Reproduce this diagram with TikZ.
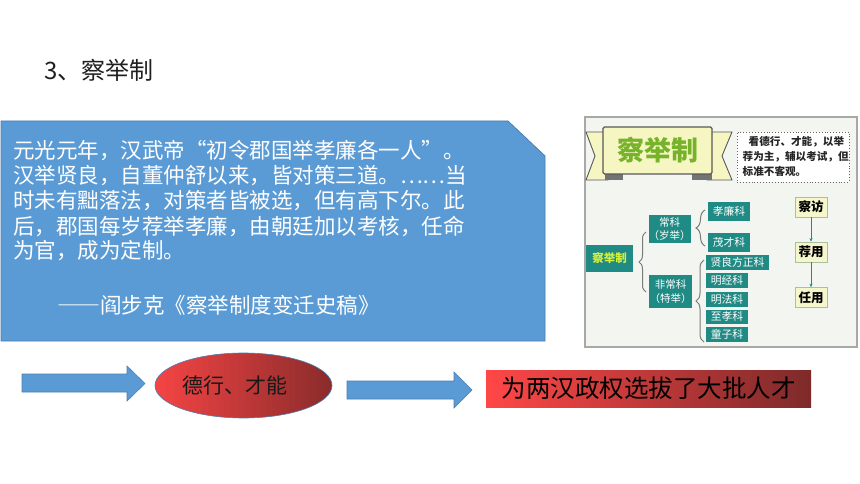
\documentclass[tikz,border=0pt]{standalone}
\usepackage{fontspec}
\setmainfont{Noto Sans CJK SC}
\newcommand{\fw}[1]{{\addfontfeatures{RawFeature=+fwid}#1}}
\usetikzlibrary{shapes.geometric,decorations.pathreplacing,arrows.meta}
\definecolor{officeblue}{HTML}{5B9BD5}
\definecolor{officeborder}{HTML}{4A7EB0}
\definecolor{redL}{HTML}{FF4747}
\definecolor{redD}{HTML}{7E2A2A}
\definecolor{ellL}{HTML}{F54444}
\definecolor{ellD}{HTML}{8A2B2B}
\definecolor{tealbox}{HTML}{208A84}
\definecolor{picbg}{HTML}{F3F5F1}
\definecolor{picframe}{HTML}{A8A8A8}
\definecolor{ribbon}{HTML}{F6F6C2}
\definecolor{bannergreen}{HTML}{76B22A}
\definecolor{rootyellow}{HTML}{D6F03A}
\definecolor{stepfill}{HTML}{F6F6CC}
\definecolor{stepdraw}{HTML}{A9BFA0}
\definecolor{bracegray}{HTML}{7A7A7A}
\tikzset{
  bodytext/.style={anchor=west, inner sep=0pt, text=white, font=\fontsize{21.5}{21.5}\selectfont},
  blockarrow/.style={fill=officeblue, draw=officeborder, line width=0.6pt},
  tealnode/.style={fill=tealbox, text=white, inner sep=0pt, align=center},
  leafnode/.style={tealnode, font=\fontsize{10.8}{11}\selectfont},
  stepbox/.style={fill=stepfill, draw=stepdraw, line width=0.6pt, inner sep=0pt,
    minimum width=32pt, minimum height=20pt, font=\fontsize{12.5}{13}\selectfont\bfseries},
  bracepath/.style={draw=bracegray, line width=1pt, decorate},
  steparrow/.style={draw=tealbox, line width=0.8pt, -{Stealth[length=3.5pt,width=3pt]}}
}
\begin{document}
\begin{tikzpicture}[x=1pt,y=-1pt]
\useasboundingbox (0,0) rectangle (860,484);
\fill[white] (0,0) rectangle (860,484);

% title
\node[anchor=west, inner sep=0pt, text=black!88, font=\fontsize{24}{24}\selectfont] (title) at (44,70) {3、察举制};

% quotation box
\draw[fill=officeblue, draw=officeborder, line width=0.8pt]
  (1,121) -- (508,121) -- (545,156) -- (545,341) -- (1,341) -- cycle;
\node[bodytext] (l1) at (13,151) {元光元年，汉武帝\fw{“}初令郡国举孝廉各一人\fw{”}。};
\node[bodytext] (l2) at (13,176) {汉举贤良，自董仲舒以来，皆对策三道。\fw{……}当};
\node[bodytext] (l3) at (13,201) {时未有黜落法，对策者皆被选，但有高下尔。此};
\node[bodytext] (l4) at (13,226) {后，郡国每岁荐举孝廉，由朝廷加以考核，任命};
\node[bodytext] (l5) at (13,251) {为官，成为定制。};
\node[bodytext] (src) at (57,305) {\fw{——}阎步克《察举制度变迁史稿》};

% picture on the right
\draw[fill=picbg, draw=picframe, line width=1.4pt] (585,117) rectangle (857,347);
% banner
\draw[fill=ribbon, draw=black!65, line width=0.9pt]
  (586,132) -- (608,132) -- (608,180) -- (586,180) -- (595,156) -- cycle;
\draw[fill=ribbon, draw=black!65, line width=0.9pt]
  (707,132) -- (732,132) -- (722,156) -- (732,180) -- (707,180) -- cycle;
\fill[black!55] (605,174) rectangle (623,180);
\fill[black!55] (692,174) rectangle (712,180);
\node[fill=ribbon, draw=black!65, line width=1.1pt, rounded corners=1.5pt,
  minimum width=109pt, minimum height=47pt, inner sep=0pt,
  text=bannergreen, font=\fontsize{27}{27}\selectfont\bfseries] (banner) at (657.5,150.5) {察举制};
% description
\node[fill=white, draw=black!60, dotted, line width=0.9pt, minimum width=112pt, minimum height=50pt, inner sep=0pt] (desc) at (793,157) {};
\node[anchor=north west, inner sep=0pt, align=left, text=black!85,
  font=\fontsize{10.6}{15}\selectfont\bfseries] (desctext) at (742.5,136)
  {\hspace*{6pt}看德行、才能，以举\\荐为主，辅以考试，但\\标准不客观。};

% tree
\node[tealnode, minimum width=47pt, minimum height=27pt, text=rootyellow,
  font=\fontsize{11.5}{12}\selectfont\bfseries] (root) at (609.5,258.5) {察举制};
\node[tealnode, minimum width=41pt, minimum height=28pt, font=\fontsize{10.5}{12.5}\selectfont] (chang) at (669.5,229) {常科\\（岁举）};
\node[tealnode, minimum width=43pt, minimum height=33pt, font=\fontsize{10.5}{13.5}\selectfont] (feichang) at (670.5,291.5) {非常科\\（特举）};
\node[leafnode, minimum width=42pt, minimum height=19pt] (xiaolian) at (729,211.5) {孝廉科};
\node[leafnode, minimum width=42pt, minimum height=19pt] (maocai) at (729,242.5) {茂才科};
\node[leafnode, minimum width=63pt, minimum height=15pt] (xianliang) at (737.5,262.5) {贤良方正科};
\node[leafnode, minimum width=42pt, minimum height=15pt] (mingjing) at (727,280.5) {明经科};
\node[leafnode, minimum width=42pt, minimum height=15pt] (mingfa) at (727,299.5) {明法科};
\node[leafnode, minimum width=42pt, minimum height=14pt] (zhixiao) at (727,316.5) {至孝科};
\node[leafnode, minimum width=42pt, minimum height=15pt] (tongzi) at (727,334.5) {童子科};

\draw[bracepath, decoration={brace, amplitude=7pt}] (646,292) -- (646,232);
\draw[bracepath, decoration={brace, amplitude=9pt}] (705,246) -- (705,210);
\draw[bracepath, decoration={brace, amplitude=8pt}] (704,342) -- (704,260);

% steps
\node[stepbox] (chafang) at (811,207) {察访};
\node[stepbox] (jianyong) at (811,252) {荐用};
\node[stepbox] (renyong) at (811,297.5) {任用};
\draw[steparrow] (chafang) -- (jianyong);
\draw[steparrow] (jianyong) -- (renyong);

% bottom row
\draw[blockarrow] (22,374) -- (127,374) -- (127,366) -- (145,383.5) -- (127,401) -- (127,392) -- (22,392) -- cycle;
\node[ellipse, minimum width=177pt, minimum height=65pt, inner sep=0pt,
  left color=ellL, right color=ellD, draw=officeborder, line width=0.6pt] (virtue) at (243.5,385.5) {};
\node[inner sep=0pt, text=black!90, font=\fontsize{21}{21}\selectfont] (virtuetext) at (235,386) {德行、才能};
\draw[blockarrow] (347,381) -- (454,381) -- (454,372) -- (472,390) -- (454,408) -- (454,399) -- (347,399) -- cycle;
\node[rectangle, minimum width=325pt, minimum height=37pt, inner sep=0pt,
  left color=redL, right color=redD, text=black, font=\fontsize{24.5}{24.5}\selectfont] (result) at (648.5,388.5) {为两汉政权选拔了大批人才};
\end{tikzpicture}
\end{document}
